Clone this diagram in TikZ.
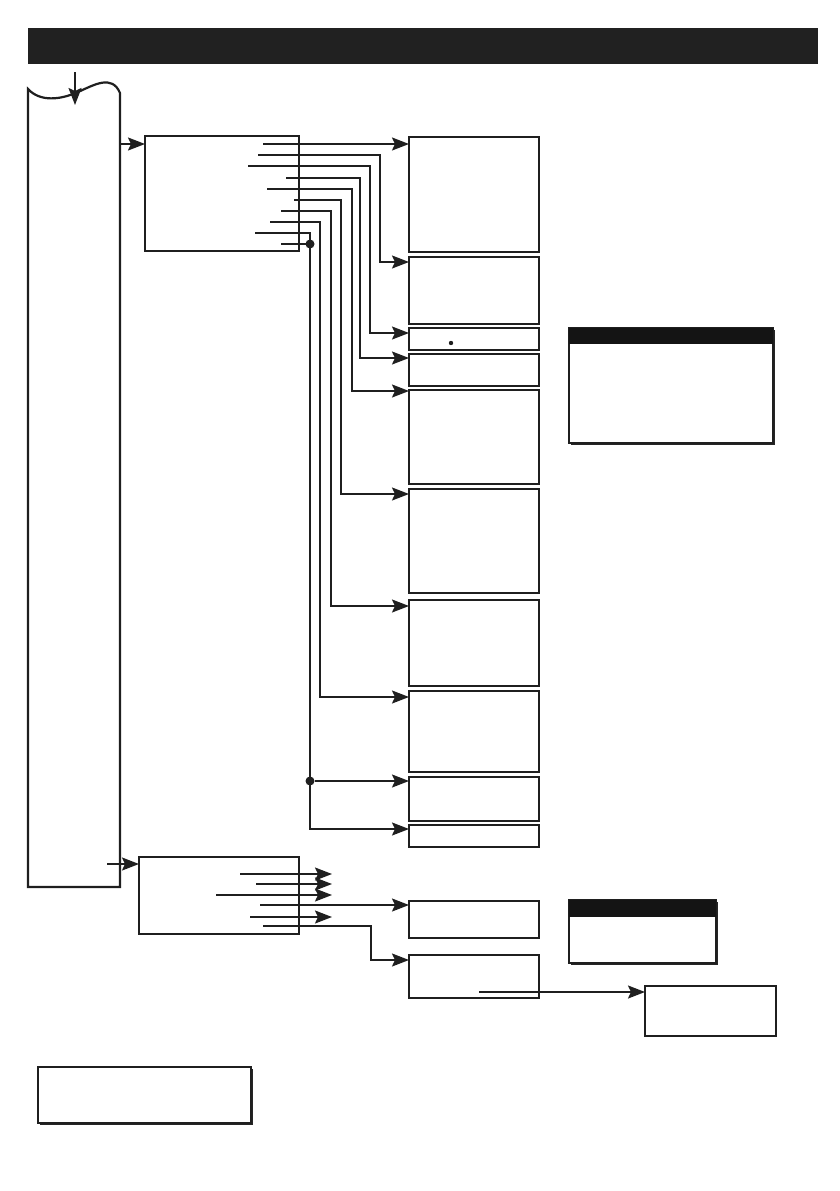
\documentclass[tikz,border=0pt]{standalone}
\usepackage{tikz}
\usetikzlibrary{arrows.meta,positioning,calc,shadows}
\tikzset{
  bar/.style={rectangle, fill=black!87, anchor=north west, inner sep=0pt,
              minimum width=790pt, minimum height=36pt},
  menu/.style={rectangle, draw=black!88, line width=2.2pt, anchor=north west,
               inner sep=0pt, outer sep=0pt},
  note/.style={menu, fill=white, line width=2.4pt,
               drop shadow={shadow xshift=1.8pt, shadow yshift=-1.8pt, fill=black!85, opacity=1}},
  hdr/.style={rectangle, fill=black!92, anchor=north west, inner sep=0pt},
  fl/.style={-{Stealth[length=17pt, width=13pt, inset=3pt]}, line width=1.8pt, draw=black!88},
  ln/.style={line width=1.8pt, draw=black!88},
  jn/.style={circle, fill=black!88, inner sep=0pt, minimum size=9pt},
}
\begin{document}
\begin{tikzpicture}[x=1pt, y=-1pt]
\useasboundingbox (0,0) rectangle (839,1191);
% title bar
\node[bar] (title) at (28,28) {};
% main menu column
\draw[line width=2.2pt, draw=black!88] (28,89) .. controls (40,102) and (60,100) .. (78,92)
  .. controls (94,85) and (112,74) .. (120,93) -- (120,887) -- (28,887) -- cycle;
\coordinate (entry) at (75,72);
\coordinate (mA) at (120,144);
\coordinate (mB) at (107,864);
% submenus
\node[menu, minimum width=154pt, minimum height=115pt] (boxA) at (145,136) {};
\node[menu, minimum width=160pt, minimum height=77pt] (boxB) at (139,857) {};
% option column
\foreach \n/\y/\h in {r1/137/115, r2/257/67, r3/328/22, r4/354/32, r5/390/94,
                      r6/489/104, r7/600/86, r8/691/81, r9/777/44, r10/825/22,
                      r11/901/37, r12/955/43}
  \node[menu, minimum width=130pt, minimum height=\h pt] (\n) at (409,\y) {};
\node[menu, minimum width=131pt, minimum height=50pt] (r13) at (645,986) {};
\fill[black!88] ([xshift=-23pt, yshift=-4pt]r3.center) circle (2.2pt);
% notes
\node[note, minimum width=204pt, minimum height=115pt] (noteA) at (569,328) {};
\node[hdr, minimum width=204pt, minimum height=16pt] (hdrA) at (noteA.north west) {};
\node[note, minimum width=147pt, minimum height=63pt] (noteB) at (569,900) {};
\node[hdr, minimum width=147pt, minimum height=17pt] (hdrB) at (noteB.north west) {};
\node[note, minimum width=213pt, minimum height=56pt] (noteC) at (38,1067) {};
% entries of submenu A
\coordinate (a1) at (263,144);
\coordinate (a2) at (258,155);
\coordinate (a3) at (248,166);
\coordinate (a4) at (286,178);
\coordinate (a5) at (267,189);
\coordinate (a6) at (294,200);
\coordinate (a7) at (281,211);
\coordinate (a8) at (270,222);
\coordinate (a9) at (255,233);
\coordinate (a10) at (281,244);
\node[jn] (j1) at (310,244) {};
\node[jn] (j2) at (310,781) {};
% entries of submenu B
\coordinate (b1) at (240,874);
\coordinate (b2) at (256,884);
\coordinate (b3) at (216,895);
\coordinate (b4) at (260,905);
\coordinate (b5) at (250,917);
\coordinate (b6) at (263,926);
\coordinate (c1) at (479,992);
\coordinate (stub) at (332,0);
% connectors
\draw[fl] (entry) -- ++(0,33);
\draw[fl] (mA) -- (boxA.west |- mA);
\draw[fl] (mB) -- (boxB.west |- mB);
\draw[fl] (a1) -- (r1.west |- a1);
\foreach \s/\run/\t/\d in {a2/122/r2/-5, a3/122/r3/-5, a4/74/r4/-4, a5/85/r5/-1,
                           a6/47/r6/-5, a7/50/r7/-6, a8/50/r8/-6}
  \draw[fl] (\s) -- ++(\run,0) |- ([yshift=\d pt]\t.north west);
\draw[ln] (a9) -| (j1.center);
\draw[ln] (a10) -- (j1.center);
\draw[ln] (j1.center) -- (j2.center);
\draw[fl] (j2) -- (r9.west |- j2);
\draw[fl] (j2.center) |- ([yshift=-4pt]r10.north west);
\foreach \s in {b1,b2,b3,b5}
  \draw[fl] (\s) -- (\s -| stub);
\draw[fl] (b4) -- (r11.west |- b4);
\draw[fl] (b6) -- ++(108,0) |- ([yshift=-5pt]r12.north west);
\draw[fl] (c1) -- (r13.west |- c1);
\end{tikzpicture}
\end{document}
